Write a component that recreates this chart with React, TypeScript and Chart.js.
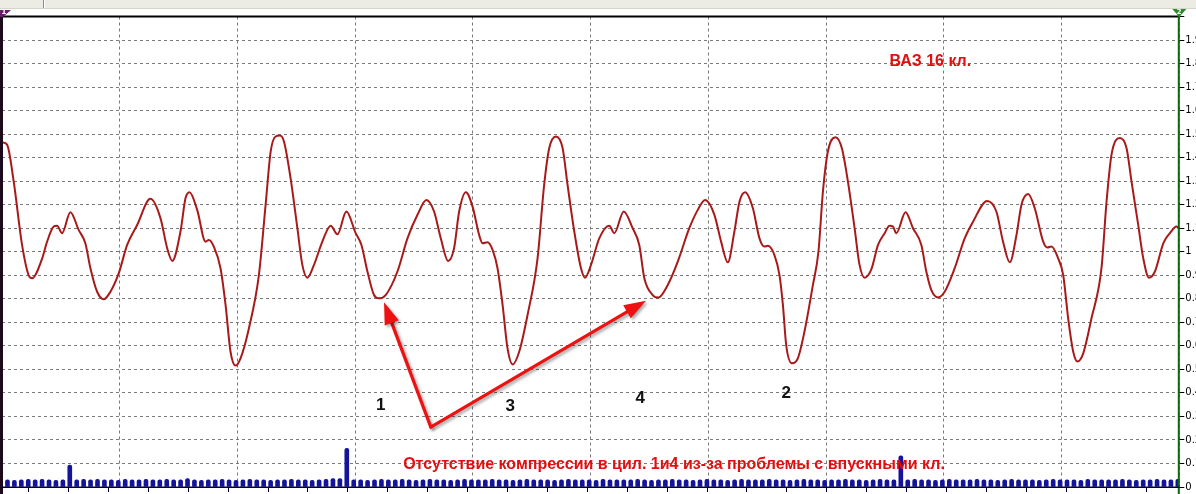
import React, { useEffect, useRef } from 'react';
import { Chart, registerables } from 'chart.js';

Chart.register(...registerables);

const W = 1196;
const H = 494;

// Red trace: time (10 units per grid division) and signal value
const SIGNAL_T = [
  0, 0.43, 0.99, 1.70, 2.26, 2.55, 3.40, 3.83, 4.39, 4.68,
  5.10, 5.81, 6.51, 7.08, 7.51, 8.08, 8.64, 9.21, 9.92, 10.63,
  11.48, 12.61, 13.46, 14.03, 14.46, 15.16, 15.59, 15.93, 16.58, 17.29,
  17.57, 17.99, 18.56, 18.99, 19.41, 19.84, 20.26, 20.97, 21.82, 22.39,
  22.82, 23.24, 23.61, 23.95, 24.52, 25.09, 25.51, 25.94, 26.50, 27.21,
  27.92, 28.49, 29.25, 30.04, 30.53, 31.04, 31.60, 32.02, 32.59, 33.59,
  34.44, 35.29, 36.05, 36.70, 37.27, 37.89, 38.40, 38.83, 39.40, 39.97,
  40.53, 40.82, 41.24, 41.67, 42.09, 42.52, 42.94, 43.37, 43.93, 44.64,
  45.49, 46.05, 46.48, 47.05, 47.62, 48.04, 48.61, 49.18, 49.52, 50.03,
  50.73, 51.58, 52.01, 52.81, 53.57, 54.13, 54.56, 55.27, 55.75, 56.55,
  57.40, 58.38, 59.10, 59.72, 60.51, 61.08, 61.65, 62.21, 62.64, 63.12,
  63.78, 64.34, 64.76, 65.05, 65.61, 66.04, 66.33, 66.61, 67.09, 67.60,
  68.16, 68.88, 69.35, 69.73, 70.15, 70.80, 71.34, 71.85, 72.42, 72.84,
  73.27, 73.84, 74.41, 74.97, 75.39, 75.68, 75.96, 76.75, 77.38, 78.09,
  78.51, 78.94, 79.51, 80.07, 80.92, 81.77, 82.48, 83.67, 84.46, 85.03,
  85.60, 86.17, 86.59, 87.16, 87.72, 88.44, 88.80, 89.14, 89.71, 90.14,
  90.56, 90.99, 91.35, 91.84, 92.54, 93.39, 93.82, 94.24, 94.95, 95.52,
  95.94, 96.51, 96.94, 97.42, 97.93, 98.64, 99.20, 99.77, 100,
];
const SIGNAL_V = [
  1.465, 1.455, 1.30, 1.03, 0.90, 0.887, 0.97, 1.043, 1.107, 1.111,
  1.079, 1.168, 1.093, 1.036, 0.93, 0.83, 0.798, 0.83, 0.909, 1.029,
  1.114, 1.225, 1.143, 1.015, 0.961, 1.086, 1.228, 1.253, 1.178, 1.043,
  1.05, 1.022, 0.93, 0.774, 0.575, 0.516, 0.547, 0.674, 0.901, 1.199,
  1.426, 1.49, 1.494, 1.469, 1.31, 1.10, 0.944, 0.890, 0.944, 1.043,
  1.111, 1.074, 1.171, 1.079, 1.029, 0.916, 0.816, 0.802, 0.816, 0.916,
  1.057, 1.157, 1.220, 1.171, 1.057, 0.961, 1.015, 1.171, 1.253, 1.192,
  1.071, 1.036, 1.04, 1.008, 0.930, 0.774, 0.589, 0.521, 0.575, 0.731,
  0.972, 1.284, 1.44, 1.490, 1.44, 1.284, 1.086, 0.93, 0.890, 0.944,
  1.057, 1.111, 1.079, 1.171, 1.10, 1.029, 0.887, 0.816, 0.805, 0.859,
  0.958, 1.10, 1.178, 1.220, 1.157, 1.043, 0.955, 1.086, 1.213, 1.253,
  1.185, 1.057, 1.022, 1.025, 0.986, 0.901, 0.774, 0.603, 0.526, 0.547,
  0.660, 0.859, 1.001, 1.256, 1.426, 1.487, 1.44, 1.299, 1.10, 0.944,
  0.890, 0.925, 1.029, 1.079, 1.111, 1.107, 1.079, 1.168, 1.10, 1.029,
  0.916, 0.837, 0.806, 0.83, 0.93, 1.057, 1.128, 1.216, 1.171, 1.043,
  0.955, 1.071, 1.199, 1.245, 1.185, 1.043, 1.018, 1.022, 0.972, 0.901,
  0.717, 0.575, 0.533, 0.568, 0.717, 0.93, 1.213, 1.412, 1.483, 1.44,
  1.299, 1.114, 0.972, 0.890, 0.916, 1.036, 1.079, 1.107, 1.095,
];

// Blue sync pulses (one per slot, evenly spaced across the trace)
const PULSE_HEIGHTS = [
  0.030, 0.028, 0.030, 0.033, 0.030, 0.033, 0.030, 0.028, 0.030, 0.093,
  0.030, 0.033, 0.030, 0.033, 0.030, 0.030, 0.028, 0.033, 0.030, 0.030,
  0.033, 0.030, 0.030, 0.033, 0.030, 0.030, 0.036, 0.030, 0.028, 0.030,
  0.030, 0.033, 0.030, 0.028, 0.030, 0.033, 0.030, 0.030, 0.028, 0.030,
  0.030, 0.033, 0.030, 0.030, 0.028, 0.030, 0.033, 0.036, 0.036, 0.164,
  0.030, 0.030, 0.028, 0.030, 0.033, 0.030, 0.030, 0.033, 0.030, 0.028,
  0.030, 0.033, 0.030, 0.030, 0.028, 0.030, 0.033, 0.030, 0.030, 0.030,
  0.033, 0.030, 0.030, 0.028, 0.030, 0.033, 0.030, 0.030, 0.030, 0.028,
  0.030, 0.033, 0.030, 0.030, 0.030, 0.028, 0.033, 0.030, 0.030, 0.030,
  0.030, 0.033, 0.030, 0.028, 0.030, 0.030, 0.033, 0.030, 0.030, 0.028,
  0.030, 0.033, 0.030, 0.030, 0.028, 0.030, 0.033, 0.030, 0.030, 0.030,
  0.033, 0.030, 0.030, 0.028, 0.030, 0.033, 0.030, 0.030, 0.028, 0.030,
  0.030, 0.033, 0.030, 0.030, 0.028, 0.030, 0.033, 0.030, 0.030, 0.133,
  0.030, 0.033, 0.030, 0.030, 0.028, 0.030, 0.033, 0.030, 0.030, 0.030,
  0.033, 0.030, 0.030, 0.028, 0.030, 0.033, 0.030, 0.030, 0.030, 0.028,
  0.030, 0.033, 0.030, 0.030, 0.030, 0.028, 0.033, 0.030, 0.030, 0.030,
  0.030, 0.033, 0.030, 0.028, 0.030, 0.030, 0.033, 0.030, 0.030, 0.033,
];
const PULSE_LABELS = PULSE_HEIGHTS.map((_, i) => String(i + 1));

// Small tick marks under the time axis
const BOTTOM_TICK_T = [
  2.26, 5.65, 9.04, 12.43, 15.82, 19.21, 22.60, 25.99, 29.38, 32.77,
  36.16, 39.55, 42.94, 46.33, 49.72, 53.11, 56.50, 59.89, 63.28, 66.67,
  70.06, 73.45, 76.84, 80.23, 83.62, 87.01, 90.40, 93.79, 97.18,
];

// Annotations
const NOTE_TITLE = 'ВАЗ 16 кл.';
const NOTE_BOTTOM = 'Отсутствие компрессии в цил. 1и4 из-за проблемы с впускными кл.';
const CYL_LABELS = ['1', '3', '4', '2'];
const CYL_T = [32.17, 43.16, 54.22, 66.61];
const CYL_V = [0.347, 0.342, 0.378, 0.400];
const ARROW_FROM = { t: 36.42, v: 0.255 };
const ARROW_TO = [
  { t: 32.45, v: 0.785 },
  { t: 54.70, v: 0.792 },
];

function drawArrow(ctx: CanvasRenderingContext2D, x0: number, y0: number, x1: number, y1: number) {
  const ang = Math.atan2(y1 - y0, x1 - x0);
  const headLen = 22;
  const headHalf = 7.5;
  const bx = x1 - headLen * Math.cos(ang);
  const by = y1 - headLen * Math.sin(ang);
  ctx.beginPath();
  ctx.moveTo(x0, y0);
  ctx.lineTo(bx, by);
  ctx.stroke();
  ctx.beginPath();
  ctx.moveTo(x1, y1);
  ctx.lineTo(bx + headHalf * Math.sin(ang), by - headHalf * Math.cos(ang));
  ctx.lineTo(bx - headHalf * Math.sin(ang), by + headHalf * Math.cos(ang));
  ctx.closePath();
  ctx.fill();
}

const overlayPlugin = {
  id: 'overlay',
  beforeDraw(chart: any) {
    const { ctx, width, height } = chart;
    ctx.save();
    ctx.fillStyle = '#ffffff';
    ctx.fillRect(0, 0, width, height);
    // toolbar strip at the top
    ctx.fillStyle = '#ecebe4';
    ctx.fillRect(0, 0, width, 9);
    ctx.fillStyle = '#d6d3c8';
    ctx.fillRect(0, 8, width, 1);
    ctx.fillStyle = '#8a8a8a';
    ctx.fillRect(43, 0, 1, 8);
    ctx.fillStyle = '#ffffff';
    ctx.fillRect(44, 0, 1, 8);
    ctx.restore();
  },
  afterDraw(chart: any) {
    const { ctx, chartArea, scales, height } = chart;
    const xs = scales.x;
    const ys = scales.y;
    ctx.save();
    // frame
    ctx.fillStyle = '#000000';
    ctx.fillRect(chartArea.left, chartArea.top - 1, chartArea.right - chartArea.left, 2);
    ctx.fillStyle = '#1c0a1c';
    ctx.fillRect(0, 10, 3, height - 10);
    ctx.fillStyle = '#0b6b0b';
    ctx.fillRect(chartArea.right - 1.5, 10, 2, height - 10);
    ctx.fillStyle = '#000033';
    ctx.fillRect(chartArea.left, chartArea.bottom - 0.5, chartArea.right - chartArea.left, 1.5);

    // cursor markers
    ctx.fillStyle = '#6a1a6a';
    ctx.beginPath();
    ctx.moveTo(0, 10); ctx.lineTo(11, 10); ctx.lineTo(3, 17); ctx.lineTo(0, 17);
    ctx.closePath(); ctx.fill();
    ctx.fillStyle = '#2a8a2a';
    ctx.beginPath();
    ctx.moveTo(chartArea.right - 7, 9); ctx.lineTo(chartArea.right + 7, 9); ctx.lineTo(chartArea.right, 17);
    ctx.closePath(); ctx.fill();
    ctx.fillStyle = '#ffffff';
    ctx.font = 'bold 7px "DejaVu Sans"';
    ctx.textAlign = 'center';
    ctx.textBaseline = 'middle';
    ctx.fillText('1', 4, 12.5);
    ctx.fillText('2', chartArea.right, 12);

    // texts
    ctx.fillStyle = '#e01010';
    ctx.font = 'bold 16px "Liberation Sans"';
    ctx.textAlign = 'center';
    ctx.textBaseline = 'middle';
    ctx.fillText(NOTE_TITLE, xs.getPixelForValue(78.85), ys.getPixelForValue(1.807));
    ctx.fillText(NOTE_BOTTOM, xs.getPixelForValue(57.08), ys.getPixelForValue(0.095));

    ctx.fillStyle = '#111111';
    ctx.font = 'bold 17px "Liberation Sans"';
    CYL_LABELS.forEach((lab, i) => {
      ctx.fillText(lab, xs.getPixelForValue(CYL_T[i]), ys.getPixelForValue(CYL_V[i]));
    });

    // arrows
    ctx.strokeStyle = '#ee1111';
    ctx.fillStyle = '#ee1111';
    ctx.lineWidth = 3.2;
    ctx.lineCap = 'round';
    ctx.lineJoin = 'round';
    ctx.shadowColor = 'rgba(0,0,0,0.35)';
    ctx.shadowOffsetX = 2;
    ctx.shadowOffsetY = 2;
    ctx.shadowBlur = 3;
    const x0 = xs.getPixelForValue(ARROW_FROM.t);
    const y0 = ys.getPixelForValue(ARROW_FROM.v);
    ARROW_TO.forEach((p) => {
      drawArrow(ctx, x0, y0, xs.getPixelForValue(p.t), ys.getPixelForValue(p.v));
    });
    ctx.restore();
  },
};

export default function App() {
  const ref = useRef<HTMLCanvasElement | null>(null);

  useEffect(() => {
    document.body.style.margin = '0';
    const canvas = ref.current;
    if (!canvas) return;
    const chart = new Chart(canvas, {
      type: 'line',
      data: {
        datasets: [
          {
            type: 'line',
            data: SIGNAL_T.map((t, i) => ({ x: t, y: SIGNAL_V[i] })),
            xAxisID: 'x',
            yAxisID: 'y',
            borderColor: '#a81a1a',
            borderWidth: 2,
            pointRadius: 0,
            cubicInterpolationMode: 'monotone',
            fill: false,
          } as any,
          {
            type: 'bar',
            data: PULSE_HEIGHTS,
            xAxisID: 'xp',
            yAxisID: 'y',
            backgroundColor: '#14149a',
            barThickness: 4,
            borderRadius: { topLeft: 2, topRight: 2, bottomLeft: 0, bottomRight: 0 },
            borderSkipped: 'bottom',
          } as any,
        ],
      },
      options: {
        responsive: false,
        animation: false,
        devicePixelRatio: 1,
        parsing: true,
        layout: { padding: { left: 2, top: 16.5, right: 0, bottom: 0 } },
        plugins: {
          legend: { display: false },
          tooltip: { enabled: false },
        },
        scales: {
          x: {
            type: 'linear',
            position: 'bottom',
            min: 0,
            max: 100,
            ticks: { display: false, stepSize: 10 },
            grid: { color: '#7a7a7a', lineWidth: 1, drawTicks: false },
            border: { display: false, dash: [3, 3] },
            afterFit: (s: any) => { s.height = 0; },
          },
          xt: {
            type: 'linear',
            position: 'bottom',
            min: 0,
            max: 100,
            afterBuildTicks: (s: any) => { s.ticks = BOTTOM_TICK_T.map((v) => ({ value: v })); },
            ticks: { display: false },
            grid: { drawOnChartArea: false, drawTicks: true, tickLength: 5, tickColor: '#000033', tickWidth: 1 },
            border: { display: false },
            afterFit: (s: any) => { s.height = 5.5; },
          },
          xp: {
            type: 'category',
            labels: PULSE_LABELS,
            display: false,
            offset: true,
          },
          y: {
            type: 'linear',
            position: 'right',
            min: 0,
            max: 2,
            ticks: {
              stepSize: 0.1,
              padding: 1,
              color: '#000000',
              font: { family: '"DejaVu Sans"', size: 10 },
              callback: (v: any) => (Number(v) >= 1.999 ? '' : String(Number(Number(v).toFixed(1)))),
            },
            grid: { color: '#7a7a7a', lineWidth: 1, drawTicks: true, tickLength: 5, tickColor: '#000000', tickWidth: 1 },
            border: { display: false, dash: [3, 3] },
            afterFit: (s: any) => { s.width = 16.7; },
          },
        },
      },
      plugins: [overlayPlugin],
    });
    return () => chart.destroy();
  }, []);

  return (
    <div style={{ width: W, height: H, position: 'relative', overflow: 'hidden' }}>
      <canvas ref={ref} width={W} height={H} style={{ display: 'block', width: W, height: H }} />
    </div>
  );
}
